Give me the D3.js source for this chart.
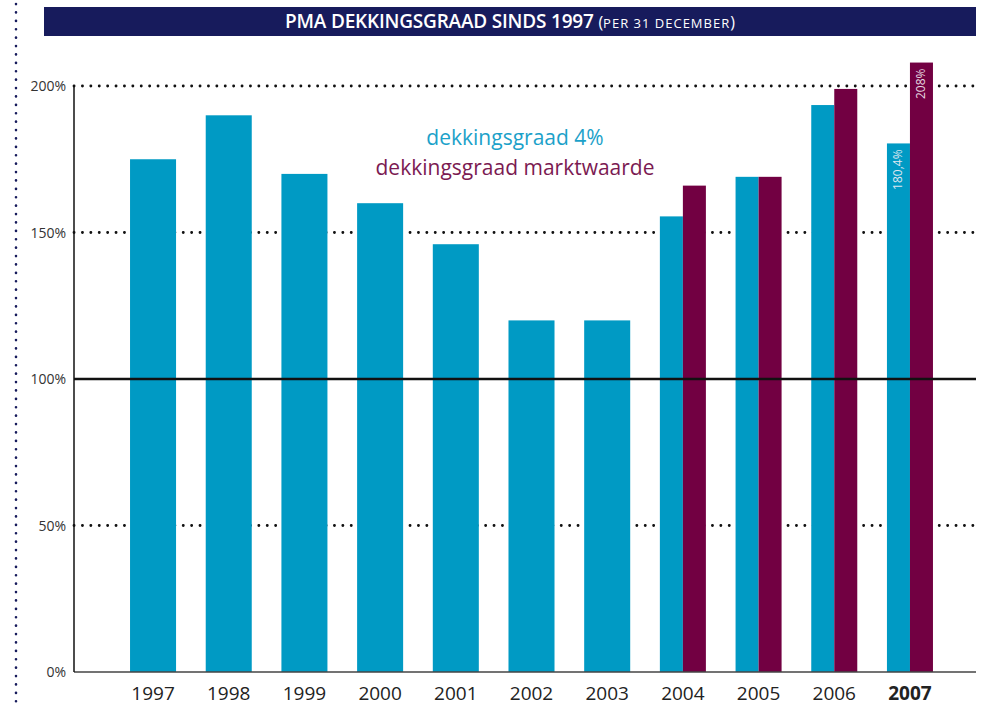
<!DOCTYPE html>
<html>
<head>
  <meta charset='utf-8'>
  <title>PMA dekkingsgraad</title>
  <script src="https://cdnjs.cloudflare.com/ajax/libs/d3/7.8.5/d3.min.js"></script>
  <style>
    body { margin: 0; background: #fff; }
    svg { display: block; font-family: 'Open Sans', sans-serif; }
    .ylab { font-size: 14px; fill: #333; text-anchor: end; }
    .xlab { font-size: 19px; fill: #222; text-anchor: middle; }
  </style>
</head>
<body>
  <svg width="1004" height="706" id="chart"></svg>
  <script>
    // data
    const years = ['1997', '1998', '1999', '2000', '2001', '2002', '2003', '2004', '2005', '2006', '2007'];
    const dg4 = [175, 190, 170, 160, 146, 120, 120, 155.5, 169, 193.5, 180.4];
    const marktwaarde = [null, null, null, null, null, null, null, 166, 169, 199, 208];
    const yTicks = [0, 50, 100, 150, 200];

    const blue = '#009ac4';
    const purple = '#720042';
    const navy = '#171b5c';

    const svg = d3.select('#chart');

    const x = d3.scaleBand()
      .domain(years)
      .range([115.2, 947.8])
      .paddingInner(0.392)
      .paddingOuter(0.196);

    const y = d3.scaleLinear()
      .domain([0, 200])
      .range([672, 86]);

    const left = 74, right = 976;

    // decorative dotted line on the left
    svg.append('line')
      .attr('x1', 16).attr('x2', 16)
      .attr('y1', 4).attr('y2', 706)
      .attr('stroke', navy)
      .attr('stroke-width', 2.6)
      .attr('stroke-linecap', 'round')
      .attr('stroke-dasharray', '0.1,8.3');

    // title bar
    svg.append('rect')
      .attr('x', 44).attr('y', 7)
      .attr('width', right - 44).attr('height', 29)
      .attr('fill', navy);

    const title = svg.append('text')
      .attr('x', 510).attr('y', 28)
      .attr('text-anchor', 'middle')
      .attr('fill', '#fff')
      .style('font-family', "'Open Sans', sans-serif");
    title.append('tspan')
      .attr('font-size', 19).attr('font-weight', 600)
      .attr('letter-spacing', -0.2)
      .text('PMA DEKKINGSGRAAD SINDS 1997 ');
    title.append('tspan')
      .attr('font-size', 16)
      .text('(');
    title.append('tspan')
      .attr('font-size', 13).attr('letter-spacing', 1)
      .text('PER 31 DECEMBER');
    title.append('tspan')
      .attr('font-size', 16)
      .text(')');

    // gridlines
    const grid = svg.append('g');
    yTicks.filter(d => d === 50 || d === 150 || d === 200).forEach(d => {
      grid.append('line')
        .attr('x1', left).attr('x2', right)
        .attr('y1', y(d)).attr('y2', y(d))
        .attr('stroke', '#111')
        .attr('stroke-width', 2.8)
        .attr('stroke-linecap', 'round')
        .attr('stroke-dasharray', '0.1,8.3');
    });

    // bars
    const half = x.bandwidth() / 2;
    const bars = svg.append('g');
    years.forEach((yr, i) => {
      const hasM = marktwaarde[i] != null;
      const bw = hasM ? half : x.bandwidth();
      bars.append('rect')
        .attr('x', x(yr))
        .attr('y', y(dg4[i]))
        .attr('width', bw)
        .attr('height', y(0) - y(dg4[i]))
        .attr('fill', blue);
      if (hasM) {
        bars.append('rect')
          .attr('x', x(yr) + half)
          .attr('y', y(marktwaarde[i]))
          .attr('width', half)
          .attr('height', y(0) - y(marktwaarde[i]))
          .attr('fill', purple);
      }
    });

    // 100% line
    svg.append('line')
      .attr('x1', left).attr('x2', right)
      .attr('y1', y(100)).attr('y2', y(100))
      .attr('stroke', '#111')
      .attr('stroke-width', 2.4);

    // baseline and y axis
    svg.append('line')
      .attr('x1', left).attr('x2', right)
      .attr('y1', y(0)).attr('y2', y(0))
      .attr('stroke', '#444')
      .attr('stroke-width', 1.5);
    svg.append('line')
      .attr('x1', left).attr('x2', left)
      .attr('y1', y(200)).attr('y2', y(0))
      .attr('stroke', '#111')
      .attr('stroke-width', 1.5);

    // y labels
    svg.append('g').selectAll('text')
      .data(yTicks)
      .join('text')
      .attr('class', 'ylab')
      .attr('x', 66)
      .attr('y', d => y(d) + 5)
      .text(d => d + '%');

    // x labels
    svg.append('g').selectAll('text')
      .data(years)
      .join('text')
      .attr('class', 'xlab')
      .attr('x', d => x(d) + x.bandwidth() / 2)
      .attr('y', 700)
      .attr('font-weight', d => d === '2007' ? 700 : 400)
      .text(d => d);

    // value labels in 2007 bars
    const last = years.length - 1;
    const lx = x(years[last]);
    svg.append('text')
      .attr('transform', `translate(${lx + half / 2 + 4},${y(dg4[last]) + 6}) rotate(-90)`)
      .attr('text-anchor', 'end')
      .attr('font-size', 12)
      .attr('fill', '#dfe6f0')
      .text('180,4%');
    svg.append('text')
      .attr('transform', `translate(${lx + half * 1.5 + 4},${y(marktwaarde[last]) + 6}) rotate(-90)`)
      .attr('text-anchor', 'end')
      .attr('font-size', 12)
      .attr('fill', '#e6d8e0')
      .text('208%');

    // legend
    svg.append('text')
      .attr('x', 515).attr('y', 145)
      .attr('text-anchor', 'middle')
      .attr('font-size', 21)
      .attr('fill', '#1ba1c9')
      .text('dekkingsgraad 4%');
    svg.append('text')
      .attr('x', 515).attr('y', 175)
      .attr('text-anchor', 'middle')
      .attr('font-size', 21)
      .attr('fill', '#7b1a52')
      .text('dekkingsgraad marktwaarde');
  </script>
</body>
</html>
